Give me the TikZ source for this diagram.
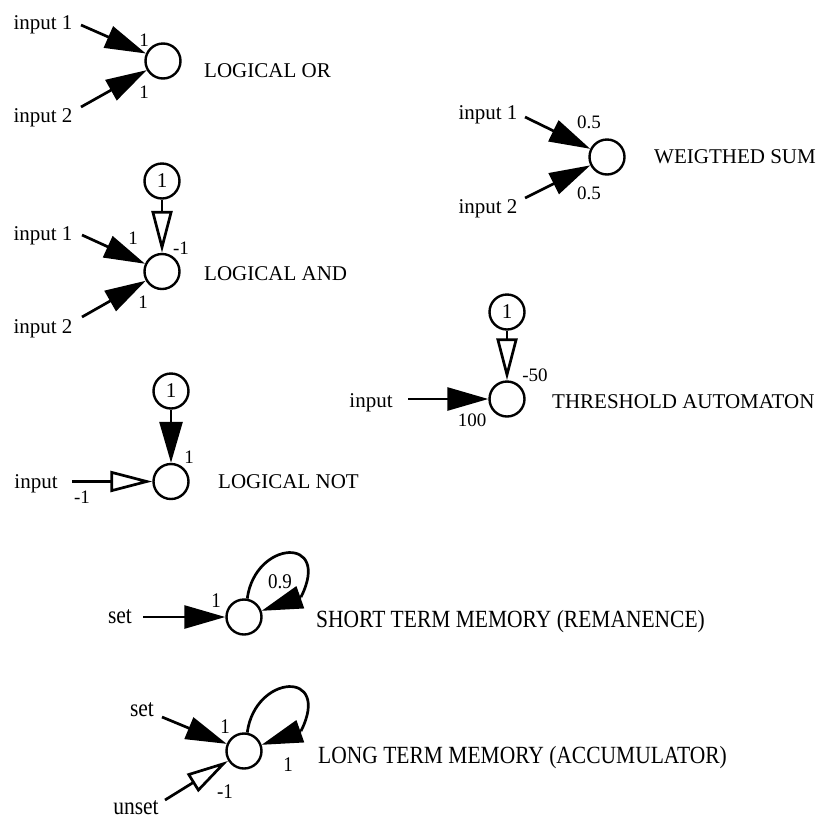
\documentclass[tikz,border=0pt]{standalone}
\usepackage{fontspec}
\setmainfont{Liberation Serif}
\usetikzlibrary{arrows.meta}
\begin{document}
\begin{tikzpicture}[x=1pt,y=-1pt,
  neuron/.style={circle,draw,line width=2.4pt,minimum size=35pt,inner sep=0pt,font=\fontsize{21}{24}\selectfont},
  txt/.style={inner sep=0pt,font=\fontsize{21}{24}\selectfont},
  tallrow/.style={yscale=1.15,font=\fontsize{21.5}{24}\selectfont},
  wt/.style={inner sep=0pt,font=\fontsize{19}{21}\selectfont},
  conn/.style={line width=2.7pt},
  excite/.style={conn,-{Triangle[length=41pt,width=23pt]}},
  inhib/.style={conn,-{Triangle[open,length=42pt,width=21pt]}},
]
\useasboundingbox (0,0) rectangle (827,820);

% ---------- LOGICAL OR ----------
\node[neuron] (or) at (163,61) {};
\node[txt,anchor=base] (ori1) at (43,29) {input 1};
\node[txt,anchor=base] (ori2) at (43,122) {input 2};
\coordinate (ora) at (81,25);
\coordinate (orb) at (81,107);
\draw[excite] (ora) -- (or);
\draw[excite] (orb) -- (or);
\node[wt] (orw1) at (144,40) {1};
\node[wt] (orw2) at (144,92) {1};
\node[txt,anchor=base west] (ort) at (204,77) {LOGICAL OR};

% ---------- LOGICAL AND ----------
\node[neuron] (andb) at (162,181) {1};
\node[neuron] (and) at (162,271.5) {};
\node[txt,anchor=base] (andi1) at (43,240) {input 1};
\node[txt,anchor=base] (andi2) at (43,333) {input 2};
\coordinate (anda) at (82,235);
\coordinate (andc) at (82,317);
\draw[excite] (anda) -- (and);
\draw[excite] (andc) -- (and);
\draw[inhib] (andb) -- (and);
\node[wt] (andw1) at (133,238) {1};
\node[wt] (andw2) at (181,248) {-1};
\node[wt] (andw3) at (143,302) {1};
\node[txt,anchor=base west] (andt) at (204,280) {LOGICAL AND};

% ---------- LOGICAL NOT ----------
\node[neuron] (notb) at (171,391) {1};
\node[neuron] (not) at (171,481.5) {};
\node[txt,anchor=base] (noti) at (36,488) {input};
\coordinate (nota) at (72,481.5);
\draw[excite] (notb) -- (not);
\draw[inhib] (nota) -- (not);
\node[wt] (notw1) at (189,457) {1};
\node[wt] (notw2) at (82,497) {-1};
\node[txt,anchor=base west] (nott) at (218,488) {LOGICAL NOT};

% ---------- WEIGTHED SUM ----------
\node[neuron] (ws) at (607,157) {};
\node[txt,anchor=base] (wsi1) at (488,119) {input 1};
\node[txt,anchor=base] (wsi2) at (488,213) {input 2};
\coordinate (wsa) at (525,117);
\coordinate (wsc) at (525,198);
\draw[excite] (wsa) -- (ws);
\draw[excite] (wsc) -- (ws);
\node[wt] (wsw1) at (589,122) {0.5};
\node[wt] (wsw2) at (589,193) {0.5};
\node[txt,anchor=base west] (wst) at (654,163) {WEIGTHED SUM};

% ---------- THRESHOLD AUTOMATON ----------
\node[neuron] (thb) at (507,312) {1};
\node[neuron] (th) at (507,399) {};
\node[txt,anchor=base] (thi) at (371,407) {input};
\coordinate (tha) at (408,399);
\draw[excite] (tha) -- (th);
\draw[inhib] (thb) -- (th);
\node[wt] (thw1) at (535,375) {-50};
\node[wt] (thw2) at (472,420) {100};
\node[txt,anchor=base west] (tht) at (552,408) {THRESHOLD AUTOMATON};

% ---------- SHORT TERM MEMORY ----------
\node[neuron] (stm) at (244,617) {};
\node[txt,tallrow,anchor=base] (stmi) at (120,623) {set};
\coordinate (stma) at (143,617);
\coordinate (stmb) at (301,597);
\draw[excite] (stma) -- (stm);
\draw[conn] (stm.80) .. controls (255,540) and (332,535) .. (stmb);
\draw[excite] (stmb) -- (stm);
\node[wt,yscale=1.1] (stmw1) at (216,601) {1};
\node[wt,yscale=1.1] (stmw2) at (280,582) {0.9};
\node[txt,tallrow,anchor=base west] (stmt) at (316,627) {SHORT TERM MEMORY (REMANENCE)};

% ---------- LONG TERM MEMORY ----------
\node[neuron] (ltm) at (244,751) {};
\node[txt,tallrow,anchor=base] (ltmi1) at (142,716) {set};
\node[txt,tallrow,anchor=base] (ltmi2) at (136,814) {unset};
\coordinate (ltma) at (162,717);
\coordinate (ltmc) at (165,800);
\coordinate (ltmb) at (301,731);
\draw[excite] (ltma) -- (ltm);
\draw[inhib] (ltmc) -- (ltm);
\draw[conn] (ltm.80) .. controls (255,674) and (332,669) .. (ltmb);
\draw[excite] (ltmb) -- (ltm);
\node[wt,yscale=1.1] (ltmw1) at (225,727) {1};
\node[wt,yscale=1.1] (ltmw2) at (225,792) {-1};
\node[wt,yscale=1.1] (ltmw3) at (288,765) {1};
\node[txt,tallrow,anchor=base west] (ltmt) at (318,763) {LONG TERM MEMORY (ACCUMULATOR)};
\end{tikzpicture}
\end{document}
